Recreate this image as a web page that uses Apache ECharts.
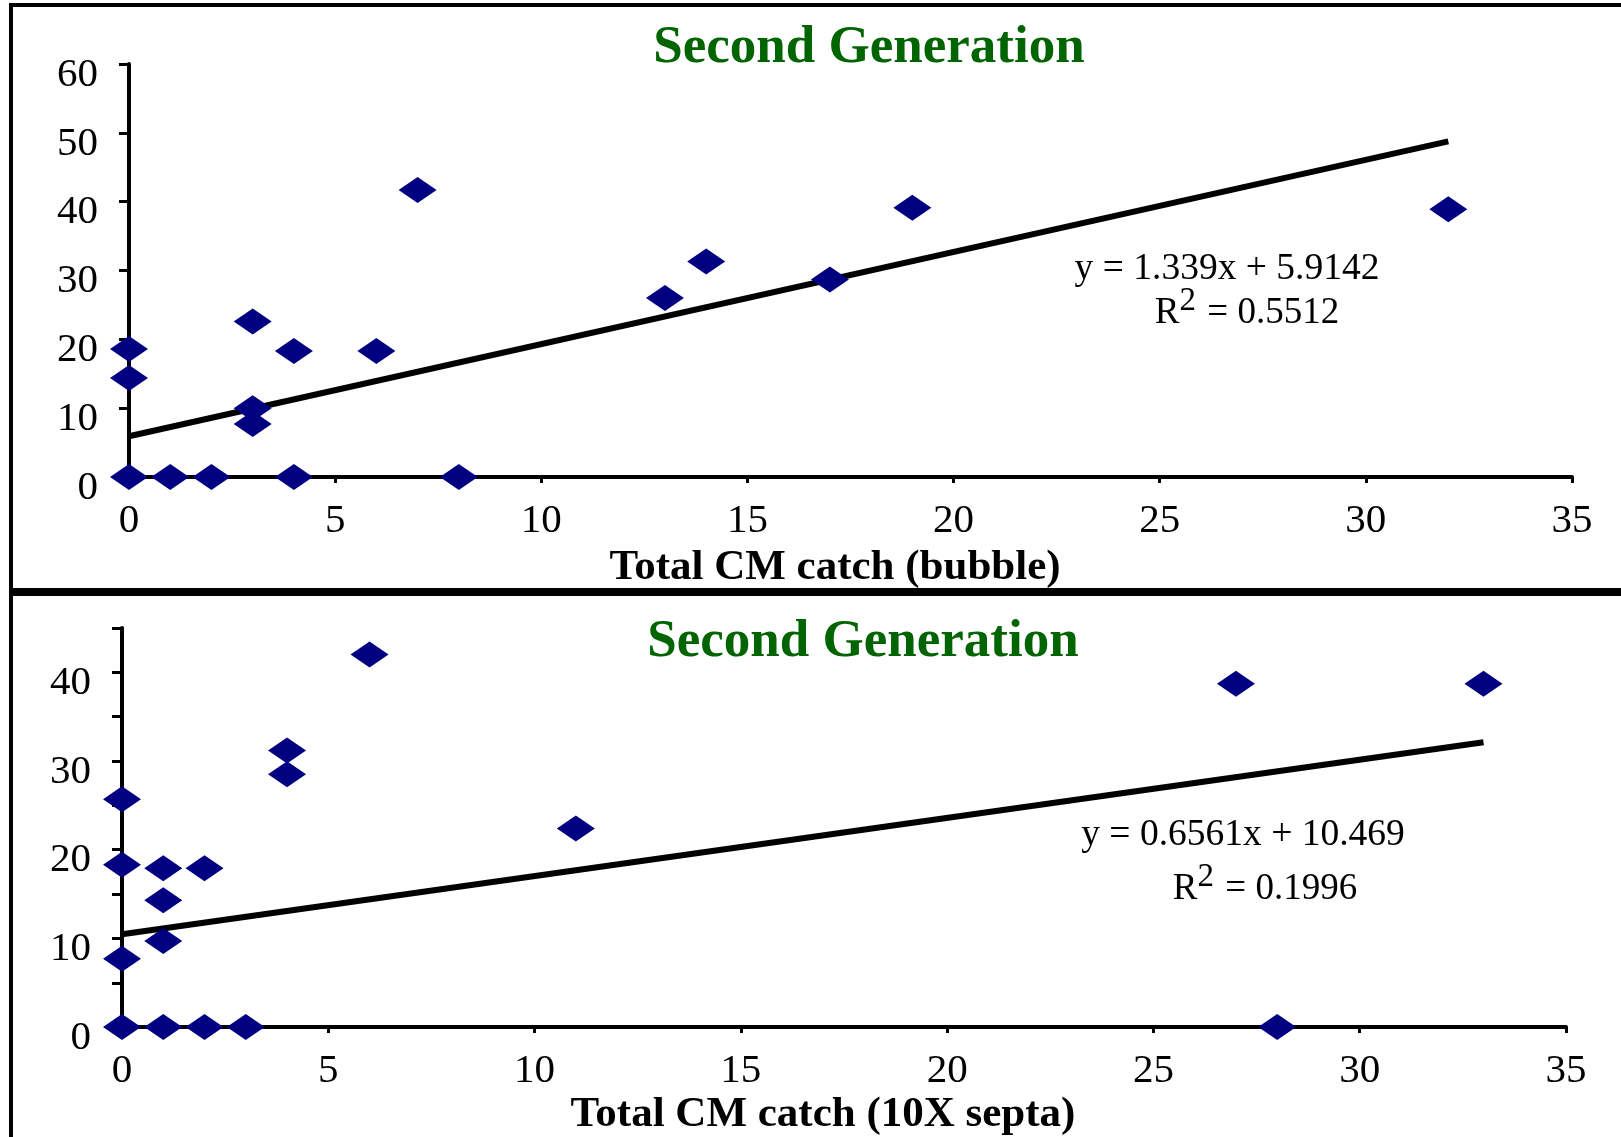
<!DOCTYPE html>
<html>
<head>
<meta charset="utf-8">
<script src="https://cdn.jsdelivr.net/npm/echarts@6/dist/echarts.min.js"></script>
<style>
  html, body { margin: 0; padding: 0; background: #fff; }
  #chart { width: 1621px; height: 1137px; }
</style>
</head>
<body>
<div id="chart"></div>
<script>
// Second generation: catch of each trap vs. total CM catch
const bubbleX = [0, 0, 0, 1, 2, 3, 3, 3, 4, 4, 6, 7, 8, 13, 14, 17, 19, 32];
const bubbleY = [18.6, 14.4, 0, 0, 0, 22.6, 10, 7.7, 18.3, 0, 18.3, 41.7, 0, 26, 31.3, 28.7, 39.1, 38.9];

const septaX = [0, 0, 0, 0, 1, 1, 1, 1, 2, 2, 3, 4, 4, 6, 11, 27, 33, 28];
const septaY = [25.7, 18.3, 7.7, 0, 17.9, 14.3, 9.7, 0, 17.9, 0, 0, 31.2, 28.5, 42, 22.4, 38.7, 38.7, 0];

// Linear trend fits: [slope, intercept, R²]
const bubbleFit = [1.339, 5.9142, 0.5512];
const septaFit = [0.6561, 10.469, 0.1996];

const titles = ['Second Generation', 'Second Generation'];
const xNames = ['Total CM catch (bubble)', 'Total CM catch (10X septa)'];

const serif = '"Liberation Serif", "Times New Roman", serif';
const navy = '#000080';
const green = '#006400';

function pairs(xs, ys) { return xs.map((x, i) => [x, ys[i]]); }
function trend(fit, xs) {
  const xMax = Math.max.apply(null, xs);
  return [[0, fit[1]], [xMax, fit[0] * xMax + fit[1]]];
}
function eqText(fit) { return 'y = ' + fit[0] + 'x + ' + fit[1]; }

const axisLine = { show: true, onZero: false, lineStyle: { color: '#000', width: 4 } };
const xLabel = { fontFamily: serif, fontSize: 41, color: '#000', margin: 24 };
// labels sit a little below their ticks
const yLabelBase = { fontFamily: serif, fontSize: 41, color: '#000', margin: 31,
                     verticalAlign: 'top', lineHeight: 22 };

function xAxis(grid, name, pad, gap) {
  return {
    type: 'value', gridIndex: grid, min: 0, max: 35, interval: 5,
    axisLine: axisLine,
    axisTick: { show: true, inside: false, length: 6, lineStyle: { color: '#000', width: 3 } },
    axisLabel: xLabel,
    splitLine: { show: false },
    name: name, nameLocation: 'middle', nameGap: gap,
    nameTextStyle: { fontFamily: serif, fontSize: 43, fontWeight: 'bold', color: '#000', padding: [0, pad, 0, 0] }
  };
}

function rSquared(fit, x, y) {
  return {
    type: 'text', x: x, y: y,
    style: {
      text: '{r|R}{s|2}{r| = ' + fit[2] + '}',
      align: 'center', verticalAlign: 'middle',
      rich: {
        r: { fontFamily: serif, fontSize: 37, color: '#000', verticalAlign: 'bottom' },
        s: { fontFamily: serif, fontSize: 33, color: '#000', verticalAlign: 'bottom', padding: [0, 2, 14, 0] }
      }
    }
  };
}

const chart = echarts.init(document.getElementById('chart'), null, { renderer: 'canvas' });
chart.setOption({
  backgroundColor: '#fff',
  animation: false,
  title: [
    { text: titles[0], left: 864, top: 17, textAlign: 'center',
      textStyle: { fontFamily: serif, fontSize: 53, fontWeight: 'bold', color: green } },
    { text: titles[1], left: 858, top: 611, textAlign: 'center',
      textStyle: { fontFamily: serif, fontSize: 53, fontWeight: 'bold', color: green } }
  ],
  grid: [
    { left: 129, top: 64, width: 1443, height: 413 },
    { left: 122, top: 628, width: 1444, height: 403 }
  ],
  xAxis: [
    xAxis(0, xNames[0], 31, 69),
    xAxis(1, xNames[1], 42, 64)
  ],
  yAxis: [
    { type: 'value', gridIndex: 0, min: 0, max: 60, interval: 10,
      axisLine: axisLine,
      axisTick: { show: true, length: 10, lineStyle: { color: '#000', width: 3 } },
      axisLabel: yLabelBase, splitLine: { show: false } },
    { type: 'value', gridIndex: 1, min: 0, max: 45, interval: 5,
      axisLine: axisLine,
      axisTick: { show: true, length: 10, lineStyle: { color: '#000', width: 3 } },
      axisLabel: Object.assign({}, yLabelBase, { formatter: v => (v % 10 === 0 ? String(v) : '') }),
      splitLine: { show: false } }
  ],
  series: [
    { type: 'line', xAxisIndex: 0, yAxisIndex: 0, data: trend(bubbleFit, bubbleX),
      symbol: 'none', lineStyle: { color: '#000', width: 6 }, z: 3 },
    { type: 'scatter', xAxisIndex: 0, yAxisIndex: 0, data: pairs(bubbleX, bubbleY),
      symbol: 'diamond', symbolSize: [38, 26], itemStyle: { color: navy, opacity: 1 }, z: 4 },
    { type: 'line', xAxisIndex: 1, yAxisIndex: 1, data: trend(septaFit, septaX),
      symbol: 'none', lineStyle: { color: '#000', width: 6 }, z: 3 },
    { type: 'scatter', xAxisIndex: 1, yAxisIndex: 1, data: pairs(septaX, septaY),
      symbol: 'diamond', symbolSize: [38, 26], itemStyle: { color: navy, opacity: 1 }, z: 4 }
  ],
  graphic: [
    // panel frames
    { type: 'rect', shape: { x: 11, y: 5, width: 1700, height: 585 },
      style: { fill: null, stroke: '#000', lineWidth: 4 }, z: 0 },
    { type: 'rect', shape: { x: 11, y: 594, width: 1700, height: 700 },
      style: { fill: null, stroke: '#000', lineWidth: 4 }, z: 0 },
    // trend equations
    { type: 'text', x: 1227, y: 269,
      style: { text: eqText(bubbleFit), align: 'center', verticalAlign: 'middle',
               fontFamily: serif, fontSize: 37.5, fill: '#000' } },
    rSquared(bubbleFit, 1247, 308),
    { type: 'text', x: 1243, y: 835,
      style: { text: eqText(septaFit), align: 'center', verticalAlign: 'middle',
               fontFamily: serif, fontSize: 37.5, fill: '#000' } },
    rSquared(septaFit, 1265, 884)
  ]
});
</script>
</body>
</html>
